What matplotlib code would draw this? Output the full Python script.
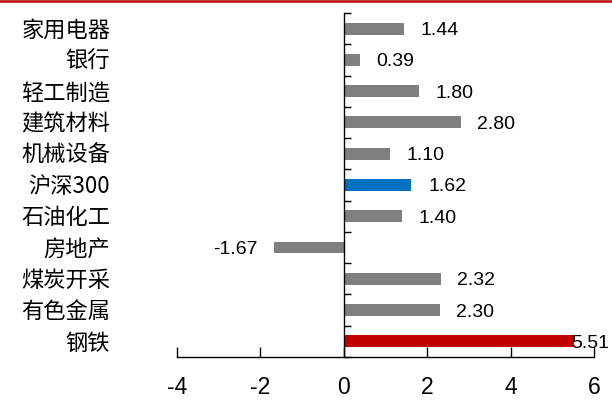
import matplotlib
matplotlib.use("Agg")
import matplotlib.pyplot as plt
from matplotlib.lines import Line2D

# industry returns, top to bottom
sectors = ["家用电器", "银行", "轻工制造", "建筑材料", "机械设备", "沪深300",
           "石油化工", "房地产", "煤炭开采", "有色金属", "钢铁"]
returns = [1.44, 0.39, 1.80, 2.80, 1.10, 1.62, 1.40, -1.67, 2.32, 2.30, 5.51]
highlight = {"沪深300": "#0070C0", "钢铁": "#C00000"}
x_ticks = [-4, -2, 0, 2, 4, 6]

plt.rcParams["font.family"] = ["Liberation Sans", "DejaVu Sans"]
cjk = ["Noto Sans CJK SC", "DejaVu Sans"]

fig = plt.figure(figsize=(6.12, 4.01), dpi=100)
ax = fig.add_axes([0.2892, 0.1097, 0.6814, 0.858])

ypos = list(range(len(sectors)))
colors = [highlight.get(s, "#7F7F7F") for s in sectors]
ax.barh(ypos, returns, height=0.38, color=colors, zorder=2)

ax.set_xlim(-4, 6)
ax.set_ylim(len(sectors) - 0.5, -0.5)

# axes: bottom spine with inward ticks, vertical spine at zero
for side in ["top", "right"]:
    ax.spines[side].set_visible(False)
ax.spines["left"].set_position(("data", 0))
ax.spines["left"].set_zorder(3)
for side in ["left", "bottom"]:
    ax.spines[side].set_linewidth(1.0)
    ax.spines[side].set_color("black")

ax.set_xticks(x_ticks)
ax.set_xticklabels([str(t) for t in x_ticks])
ax.tick_params(axis="x", direction="in", length=7, width=1.0,
               labelsize=16.5, pad=14, colors="black")

ax.set_yticks([y - 0.5 for y in range(len(sectors) + 1)])
ax.set_yticklabels([])
ax.tick_params(axis="y", direction="in", length=5, width=1.0)

# sector names to the left of the plot area
for y, name in zip(ypos, sectors):
    ax.text(-0.16, y + 0.05, name, transform=ax.get_yaxis_transform(),
            ha="right", va="center", fontsize=16, family=cjk, color="black")

# value labels
for y, v in zip(ypos, returns):
    if v < 0:
        ax.annotate(f"{v:.2f}", (v, y), xytext=(-12, 0), textcoords="offset points",
                    ha="right", va="center_baseline", fontsize=14)
    elif v > 5:
        ax.annotate(f"{v:.2f}", (v, y), xytext=(-2, 0), textcoords="offset points",
                    ha="left", va="center_baseline", fontsize=14)
    else:
        ax.annotate(f"{v:.2f}", (v, y), xytext=(12, 0), textcoords="offset points",
                    ha="left", va="center_baseline", fontsize=14)

# red rule along the top edge
fig.add_artist(Line2D([0, 1], [0.997, 0.997], color="#C00000", linewidth=1.8,
                      transform=fig.transFigure))

fig.savefig("out.png", dpi=100)
